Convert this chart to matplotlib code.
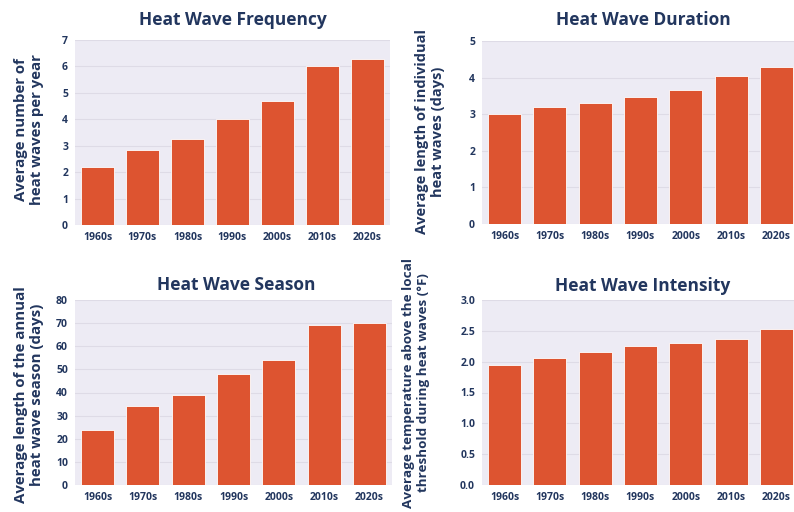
import matplotlib.pyplot as plt
import numpy as np

decades = ['1960s', '1970s', '1980s', '1990s', '2000s', '2010s', '2020s']

frequency = [2.2, 2.85, 3.25, 4.0, 4.7, 6.0, 6.3]
duration = [3.0, 3.2, 3.3, 3.47, 3.65, 4.05, 4.3]
season = [24, 34, 39, 48, 54, 69, 70]
intensity = [1.95, 2.06, 2.15, 2.25, 2.3, 2.36, 2.53]

titles = ['Heat Wave Frequency', 'Heat Wave Duration', 'Heat Wave Season', 'Heat Wave Intensity']
ylabels = ['Average number of\nheat waves per year',
           'Average length of individual\nheat waves (days)',
           'Average length of the annual\nheat wave season (days)',
           'Average temperature above the local\nthreshold during heat waves (\u00b0F)']
yticks = [[0, 1, 2, 3, 4, 5, 6, 7],
          [0, 1, 2, 3, 4, 5],
          [0, 10, 20, 30, 40, 50, 60, 70, 80],
          [0.0, 0.5, 1.0, 1.5, 2.0, 2.5, 3.0]]
ytick_fmt = ['{:.0f}', '{:.0f}', '{:.0f}', '{:.1f}']
series = [frequency, duration, season, intensity]

navy = '#22365e'
bar_color = '#dd5430'
bg = '#edebf4'
grid = '#dedbe6'

plt.rcParams['font.family'] = ['Open Sans', 'DejaVu Sans']
plt.rcParams['font.weight'] = 'bold'

W, H = 794, 512
fig = plt.figure(figsize=(W / 100, H / 100), dpi=100)
fig.patch.set_facecolor('white')

# axes boxes in pixels: left, top, right, bottom
boxes = [(75, 40, 390, 225), (482, 41, 799, 224), (75, 300, 392, 485), (482, 300, 799, 485)]
label_pos = [(29, 130), (430, 132), (29, 395), (416, 383)]
label_size = [10.8, 10.5, 10.8, 9.7]
title_pos = [(233, 20), (643, 20), (236, 285), (643, 286)]

for i in range(4):
    l, t, r, b = boxes[i]
    ax = fig.add_axes([l / W, 1 - b / H, (r - l) / W, (b - t) / H])
    ax.set_facecolor(bg)
    x = np.arange(len(decades))
    ax.bar(x, series[i], width=0.73, color=bar_color, edgecolor='white', linewidth=0.6, zorder=3)
    ax.set_xlim(-0.5, len(decades) - 0.5)
    ax.set_ylim(yticks[i][0], yticks[i][-1])
    ax.set_yticks(yticks[i])
    ax.set_yticklabels([ytick_fmt[i].format(v) for v in yticks[i]])
    ax.set_xticks(x)
    ax.set_xticklabels(decades)
    ax.tick_params(length=0, labelsize=7.5, labelcolor=navy, pad=5)
    for lab in ax.get_xticklabels() + ax.get_yticklabels():
        lab.set_fontweight('bold')
    ax.grid(axis='y', color=grid, linewidth=0.8, zorder=0)
    for s in ax.spines.values():
        s.set_visible(False)
    tx, ty = title_pos[i]
    fig.text(tx / W, 1 - ty / H, titles[i], ha='center', va='center',
             fontsize=12.5, fontweight='bold', color=navy)
    lx, ly = label_pos[i]
    fig.text(lx / W, 1 - ly / H, ylabels[i], ha='center', va='center', rotation=90,
             fontsize=label_size[i], fontweight='bold', color=navy, linespacing=1.15,
             multialignment='center')

fig.savefig('out.png', dpi=100)
